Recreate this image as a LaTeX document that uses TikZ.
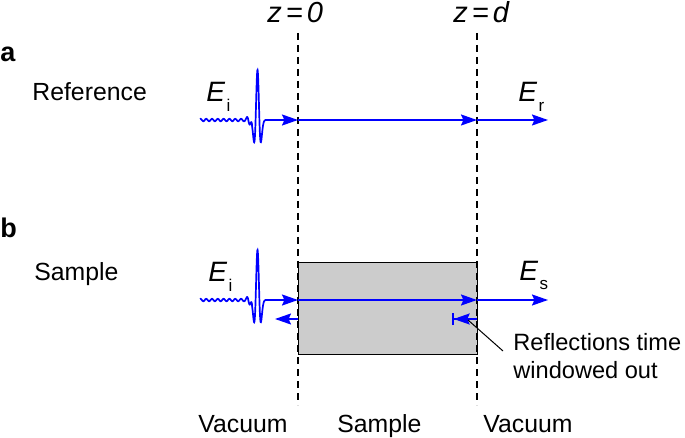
\documentclass[tikz,border=0pt]{standalone}
\usepackage{fontspec}
\setmainfont{Liberation Sans}
\usetikzlibrary{arrows.meta}
\definecolor{slabgray}{HTML}{CCCCCC}
\newcommand{\field}[1]{{\fontsize{14}{14}\selectfont\textit{E}\kern0.6pt\raisebox{-5pt}{\fontsize{8.5}{8.5}\selectfont #1}}}
\newcommand{\plane}[1]{{\fontsize{14.5}{15}\selectfont\itshape z\hspace{0.14em}=\hspace{0.14em}#1}}
\newcommand{\pulse}[1]{plot[domain=200:270, samples=400] (\x, {#1 - 50*(1-2*(max(-4,min(4,(\x-257.5)/2.7)))^2)*exp(-(max(-4,min(4,(\x-257.5)/2.7)))^2) - (\x<252)*(1.2+3.5*exp(-(max(-4,min(4,(\x-249)/2.5)))^2))*sin(62*(\x-257))})}

\begin{document}
\begin{tikzpicture}[x=0.5pt, y=-0.5pt, font=\fontsize{12.4}{14}\selectfont]
  \tikzset{
    ray/.style={blue, line width=0.85pt},
    tip/.style={-{Stealth[length=8pt,width=5.5pt,inset=1.2pt]}},
    stoptip/.style={-{Stealth[length=8pt,width=5.5pt,inset=1.2pt]Bar[width=6pt,line width=0.85pt]}},
    boundary/.style={black, line width=0.75pt, dash pattern=on 3.5pt off 2.5pt},
    slab/.style={draw=black, line width=0.5pt, fill=slabgray},
    lbl/.style={anchor=base west, inner sep=0pt},
    panel/.style={anchor=base west, inner sep=0pt, font=\fontsize{13.5}{14}\selectfont\bfseries}
  }
  \useasboundingbox (0,0) rectangle (685,438);

  % sample slab
  \draw[slab] (298,263) rectangle (477,354);

  % interfaces
  \coordinate (z0-top) at (298,33);
  \coordinate (z0-bot) at (298,405);
  \coordinate (zd-top) at (477,33);
  \coordinate (zd-bot) at (477,405);
  \draw[boundary] (z0-top) -- (z0-bot);
  \draw[boundary] (zd-top) -- (zd-bot);
  \node[anchor=base west, inner sep=0pt] (z0) at (267,23) {\plane{0}};
  \node[anchor=base west, inner sep=0pt] (zd) at (453,23) {\plane{d}};

  % panel a
  \node[panel] (a) at (0,62) {a};
  \node[lbl] (ref) at (32,101) {Reference};
  \coordinate (a-z0) at (298,120);
  \coordinate (a-zd) at (477,120);
  \coordinate (a-end) at (548,120);
  \draw[ray, tip] \pulse{120} -- (a-z0);
  \draw[ray, tip] (a-z0) -- (a-zd);
  \draw[ray, tip] (a-zd) -- (a-end);
  \node[lbl] (a-Ei) at (206,102) {\field{i}};
  \node[lbl] (a-Er) at (518,102) {\field{r}};

  % panel b
  \node[panel] (b) at (0,238) {b};
  \node[lbl] (smp) at (34,280) {Sample};
  \coordinate (b-z0) at (298,300);
  \coordinate (b-zd) at (477,300);
  \coordinate (b-end) at (548,300);
  \draw[ray, tip] \pulse{300} -- (b-z0);
  \draw[ray, tip] (b-z0) -- (b-zd);
  \draw[ray, tip] (b-zd) -- (b-end);
  \node[lbl] (b-Ei) at (208,282) {\field{i}};
  \node[lbl] (b-Es) at (519,280) {\field{s}};

  % reflections
  \coordinate (r0) at (298,319);
  \coordinate (r0-end) at (275,319);
  \coordinate (rd) at (477,319);
  \coordinate (rd-end) at (452,319);
  \draw[ray, tip] (r0) -- (r0-end);
  \draw[ray, stoptip] (rd) -- (rd-end);
  \node[anchor=west, align=left, inner sep=0pt, font=\fontsize{11.8}{14}\selectfont] (refl) at (513,356) {Reflections time\\windowed out};
  \coordinate (echo) at (468,320);
  \coordinate (refl-in) at (503,351);
  \draw[black, line width=0.5pt] (echo) -- (refl-in);

  % regions
  \node[lbl] (vac1) at (198,432) {Vacuum};
  \node[lbl] (slabtxt) at (337,432) {Sample};
  \node[lbl] (vac2) at (483,432) {Vacuum};
\end{tikzpicture}
\end{document}
